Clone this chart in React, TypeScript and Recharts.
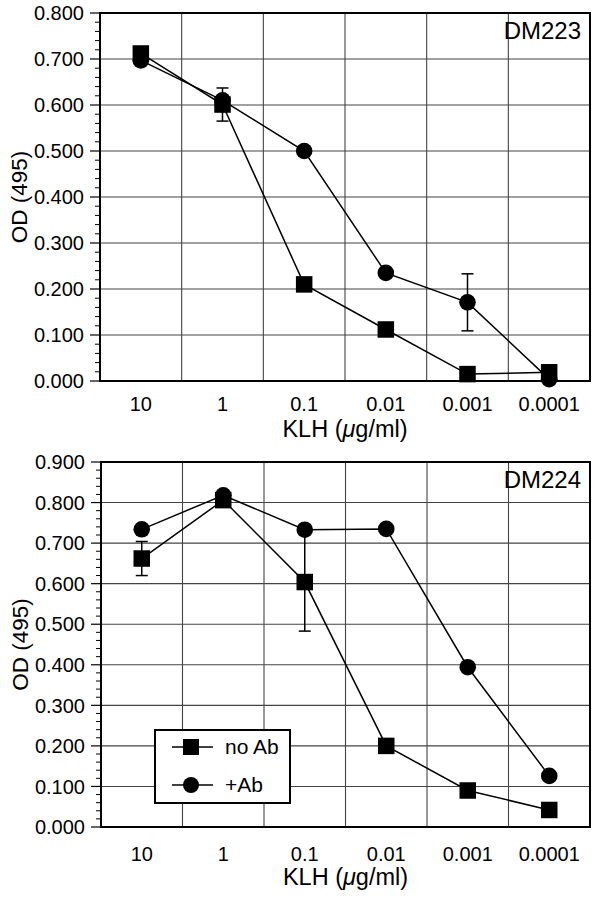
import React from 'react';
import {
    CartesianGrid,
    ComposedChart,
    ErrorBar,
    Label,
    Legend,
    Line,
    ReferenceArea,
    XAxis,
    YAxis,
} from 'recharts';

const doses = ['10', '1', '0.1', '0.01', '0.001', '0.0001'];

const dm223NoAb = [0.712, 0.601, 0.210, 0.112, 0.015, 0.019];
const dm223NoAbErr = [null, 0.036, null, null, null, null];
const dm223PlusAb = [0.697, 0.610, 0.500, 0.235, 0.171, 0.004];
const dm223PlusAbErr = [null, null, null, null, 0.062, null];

const dm224NoAb = [0.662, 0.806, 0.604, 0.200, 0.090, 0.042];
const dm224NoAbErr = [0.042, null, 0.121, null, null, null];
const dm224PlusAb = [0.734, 0.818, 0.733, 0.735, 0.394, 0.126];
const dm224PlusAbErr = [null, null, null, null, null, null];

const dm223YTicks = [0, 0.1, 0.2, 0.3, 0.4, 0.5, 0.6, 0.7, 0.8];
const dm224YTicks = [0, 0.1, 0.2, 0.3, 0.4, 0.5, 0.6, 0.7, 0.8, 0.9];

const FONT = '"Liberation Sans", Arial, Helvetica, sans-serif';

// band edges carry grid + tick marks, band centres carry the dose labels
const bandEdges = doses.map((_, i) => i).concat(doses.length);
const bandCentres = doses.map((_, i) => i + 0.5);

const minorTicks = (max: number) => {
    const out: number[] = [];
    for (let i = 0; i <= Math.round(max / 0.02); i++) out.push(+(i * 0.02).toFixed(2));
    return out;
};

// y tick: long mark + label on the 0.1 steps, short mark otherwise
const YTick = (props: any) => {
    const {x, y, payload, index} = props;
    const v = payload.value as number;
    const major = Math.abs(v * 10 - Math.round(v * 10)) < 1e-6;
    const axisX = x + 16;
    return (
        <g key={`yt-${index}`}>
            <line x1={axisX - (major ? 10 : 5)} x2={axisX} y1={y} y2={y} stroke="#000" strokeWidth={major ? 1.2 : 1}/>
            {major && (
                <text x={x} y={y} dy="0.36em" textAnchor="end" fontSize={20} fontFamily={FONT} fill="#000">
                    {v.toFixed(3)}
                </text>
            )}
        </g>
    );
};

const SquareDot = (props: any) => {
    const {cx, cy, index, value} = props;
    if (cx == null || cy == null || value == null) return <g key={`sq-${index}`}/>;
    return <rect key={`sq-${index}`} x={cx - 8.25} y={cy - 8.25} width={16.5} height={16.5} fill="#000"/>;
};

const CircleDot = (props: any) => {
    const {cx, cy, index, value} = props;
    if (cx == null || cy == null || value == null) return <g key={`ci-${index}`}/>;
    return <circle key={`ci-${index}`} cx={cx} cy={cy} r={8.3} fill="#000"/>;
};

const LegendBox = () => (
    <svg width={137} height={75} style={{display: 'block'}}>
        <rect x={1} y={1} width={135} height={73} fill="#fff" stroke="#000" strokeWidth={2}/>
        <line x1={18} x2={59} y1={18} y2={18} stroke="#000" strokeWidth={1.5}/>
        <rect x={29} y={10} width={16} height={16} fill="#000"/>
        <text x={71} y={25} fontSize={21} fontFamily={FONT} fill="#000">no Ab</text>
        <line x1={18} x2={59} y1={56} y2={56} stroke="#000" strokeWidth={1.5}/>
        <circle cx={37} cy={56} r={8} fill="#000"/>
        <text x={71} y={63} fontSize={21} fontFamily={FONT} fill="#000">+Ab</text>
    </svg>
);

type PanelProps = {
    name: string;
    noAb: number[];
    noAbErr: Array<number | null>;
    plusAb: number[];
    plusAbErr: Array<number | null>;
    yTicks: number[];
    margin: {top: number; right: number; bottom: number; left: number};
    axisHeight: number;
    labelGap: number;
    titleGap: number;
    showLegend?: boolean;
};

const Panel = ({name, noAb, noAbErr, plusAb, plusAbErr, yTicks, margin, axisHeight, labelGap, titleGap, showLegend}: PanelProps) => {
    const yMax = yTicks[yTicks.length - 1];
    const data = doses.map((dose, i) => ({
        x: i + 0.5,
        dose,
        noAb: noAb[i],
        noAbErr: noAbErr[i],
        plusAb: plusAb[i],
        plusAbErr: plusAbErr[i],
    }));

    return (
        <ComposedChart width={600} height={450} data={data} margin={margin}>
            <XAxis
                xAxisId="edges"
                dataKey="x"
                type="number"
                domain={[0, doses.length]}
                ticks={bandEdges}
                interval={0}
                tickFormatter={() => ''}
                tickSize={10}
                tickLine={{stroke: '#000', strokeWidth: 1.2}}
                axisLine={false}
                height={0}
            />
            <XAxis
                xAxisId="mid"
                dataKey="x"
                type="number"
                domain={[0, doses.length]}
                ticks={bandCentres}
                interval={0}
                tickFormatter={(v: number) => doses[Math.round(v - 0.5)]}
                tickLine={false}
                axisLine={false}
                tickSize={6}
                tickMargin={labelGap}
                tick={{fill: '#000', fontSize: 20, fontFamily: FONT}}
                height={axisHeight}
            >
                <Label
                    content={(p: any) => {
                        const vb = p.viewBox || {x: 100, y: 380, width: 490};
                        return (
                            <text x={vb.x + vb.width / 2} y={vb.y + titleGap} textAnchor="middle" fontSize={23.5} fontFamily={FONT} fill="#000">
                                KLH (<tspan fontStyle="italic">μ</tspan>g/ml)
                            </text>
                        );
                    }}
                />
            </XAxis>
            <YAxis
                yAxisId="y"
                type="number"
                domain={[0, yMax]}
                ticks={minorTicks(yMax)}
                interval={0}
                tickSize={10}
                tickMargin={6}
                tickLine={false}
                axisLine={false}
                tick={YTick}
                width={100}
            >
                <Label
                    value="OD (495)"
                    angle={-90}
                    position="insideLeft"
                    offset={19}
                    fontSize={22.5}
                    fontFamily={FONT}
                    fill="#000"
                    style={{textAnchor: 'middle'}}
                />
            </YAxis>
            <CartesianGrid
                xAxisId="edges"
                yAxisId="y"
                horizontalValues={yTicks}
                stroke="#444"
                strokeWidth={1.1}
            />
            <ReferenceArea
                xAxisId="edges"
                yAxisId="y"
                x1={0}
                x2={doses.length}
                y1={0}
                y2={yMax}
                fill="none"
                fillOpacity={0}
                stroke="#000"
                strokeWidth={2}
                label={{value: name, position: 'insideTopRight', offset: 9, fontSize: 24, fontFamily: FONT, fill: '#000'}}
            />
            <Line
                xAxisId="mid"
                yAxisId="y"
                dataKey="plusAb"
                stroke="#000"
                strokeWidth={1.5}
                dot={CircleDot}
                activeDot={false}
                isAnimationActive={false}
            >
                <ErrorBar dataKey="plusAbErr" direction="y" width={6} stroke="#000" strokeWidth={1.5}/>
            </Line>
            <Line
                xAxisId="mid"
                yAxisId="y"
                dataKey="noAb"
                stroke="#000"
                strokeWidth={1.5}
                dot={SquareDot}
                activeDot={false}
                isAnimationActive={false}
            >
                <ErrorBar dataKey="noAbErr" direction="y" width={6} stroke="#000" strokeWidth={1.5}/>
            </Line>
            {showLegend && (
                <Legend
                    layout="horizontal"
                    verticalAlign="middle"
                    align="center"
                    wrapperStyle={{left: 154, top: 279, width: 137, height: 75}}
                    content={() => <LegendBox/>}
                />
            )}
        </ComposedChart>
    );
};

export default function App() {
    return (
        <div style={{position: 'absolute', left: 0, top: 0, width: 600, height: 900, background: '#fff', fontFamily: FONT}}>
            <div style={{position: 'absolute', left: 0, top: 0}}>
                <Panel
                    name="DM223"
                    noAb={dm223NoAb}
                    noAbErr={dm223NoAbErr}
                    plusAb={dm223PlusAb}
                    plusAbErr={dm223PlusAbErr}
                    yTicks={dm223YTicks}
                    margin={{top: 13, right: 10, bottom: 0, left: 0}}
                    axisHeight={69}
                    labelGap={10}
                    titleGap={56}
                />
            </div>
            <div style={{position: 'absolute', left: 0, top: 450}}>
                <Panel
                    name="DM224"
                    noAb={dm224NoAb}
                    noAbErr={dm224NoAbErr}
                    plusAb={dm224PlusAb}
                    plusAbErr={dm224PlusAbErr}
                    yTicks={dm224YTicks}
                    margin={{top: 12, right: 10, bottom: 0, left: 1}}
                    axisHeight={73}
                    labelGap={14}
                    titleGap={58}
                    showLegend
                />
            </div>
        </div>
    );
}
